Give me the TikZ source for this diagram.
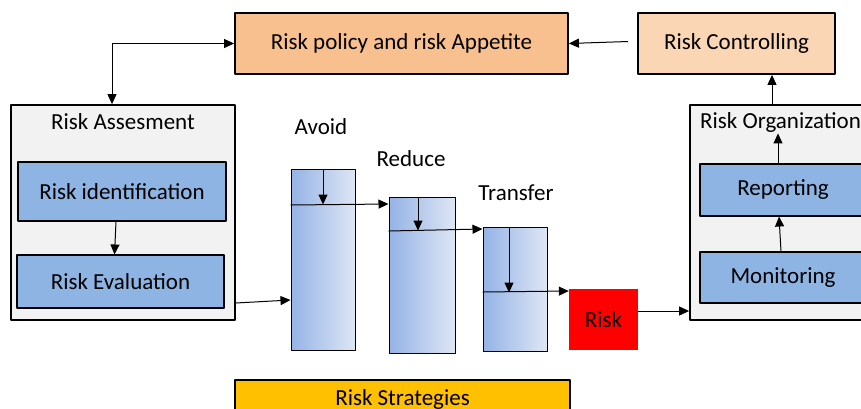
\documentclass[tikz,border=0pt]{standalone}
\usepackage{fontspec}
\setmainfont{Carlito}
\usetikzlibrary{arrows.meta}
\definecolor{policyfill}{RGB}{248,192,143}
\definecolor{controlfill}{RGB}{251,214,181}
\definecolor{innerfill}{RGB}{142,180,227}
\definecolor{outerfill}{RGB}{242,242,242}
\definecolor{barleft}{RGB}{149,179,230}
\definecolor{barright}{RGB}{222,230,245}
\definecolor{stratfill}{RGB}{255,192,0}
\tikzset{
	topbox/.style={draw, line width=1.8pt, inner sep=0pt},
	outerbox/.style={draw, line width=1.8pt, fill=outerfill, inner sep=0pt},
	innerbox/.style={draw, line width=1.1pt, fill=innerfill, inner sep=0pt},
	bar/.style={draw, line width=1pt, left color=barleft, right color=barright, inner sep=0pt},
	conn/.style={->, line width=1pt}
}
\begin{document}
\begin{tikzpicture}[x=1pt, y=-1pt, font=\fontsize{23}{26}\selectfont, line join=round, >={Triangle[length=10pt,width=9pt]}]
	\useasboundingbox (0,0) rectangle (861,408);
	\clip (0,0) rectangle (861,408);
	% top row
	\node[topbox, fill=policyfill, minimum width=333, minimum height=61] (policy) at (401.5,43.5) {Risk policy and risk Appetite};
	\node[topbox, fill=controlfill, minimum width=197, minimum height=61] (control) at (736.5,43.5) {Risk Controlling};
	% left block
	\node[outerbox, minimum width=224, minimum height=215] (assess) at (123,212.5) {};
	\node (assesstitle) at (123,122) {Risk Assesment};
	\node[innerbox, minimum width=208, minimum height=59] (ident) at (122,191.5) {Risk identification};
	\node[innerbox, minimum width=207, minimum height=53] (evalu) at (120.5,281.5) {Risk Evaluation};
	% right block
	\node[outerbox, minimum width=180, minimum height=215] (org) at (780,212.5) {};
	\node[anchor=west, inner sep=0pt] (orgtitle) at (700,122) {Risk Organization};
	\node[innerbox, minimum width=166, minimum height=52] (report) at (783,190) {Reporting};
	\node[innerbox, minimum width=166, minimum height=51] (monitor) at (783,277.5) {Monitoring};
	% strategies
	\node[bar, minimum width=64, minimum height=181] (avoid) at (323,259.5) {};
	\node[bar, minimum width=66, minimum height=156] (reduce) at (422,275) {};
	\node[bar, minimum width=64, minimum height=124] (transfer) at (515,289) {};
	\node (avoidlbl) at (321,127) {Avoid};
	\node (reducelbl) at (411,159) {Reduce};
	\node (transferlbl) at (516,193) {Transfer};
	\node[fill=red, minimum width=69, minimum height=61, inner sep=0pt] (risk) at (603.5,319.5) {Risk};
	\node[topbox, fill=stratfill, minimum width=335, minimum height=38] (strat) at (402.5,399) {Risk Strategies};
	% connectors
	\draw[conn] (control.west) ++(-9,-2) -- (policy.east);
	\draw[<->, line width=1pt] ([xshift=-11]assess.north) |- (policy.west);
	\draw[conn] ([xshift=-6]ident.south) -- ([xshift=-6]evalu.north);
	\draw[conn] (assess.east |- 0,303) -- (avoid.west |- 0,300);
	\draw[conn] (avoid.north) -- ++(0,36);
	\draw[conn] (avoid.west |- 0,205) -- (reduce.west |- 0,204);
	\draw[conn] ([xshift=-4]reduce.north) -- ++(0,34);
	\draw[conn] (reduce.west |- 0,231) -- (transfer.west |- 0,229);
	\draw[conn] ([xshift=-6]transfer.north) -- ++(0,66);
	\draw[conn] (transfer.west |- 0,292) -- (risk.west |- 0,291);
	\draw[conn] (risk.east |- 0,311) -- (org.west |- 0,311);
	\draw[conn] ([xshift=-2]monitor.north) -- ([xshift=-4]report.south);
	\draw[conn] ([xshift=-5]report.north) -- ++(0,-30);
	\draw[conn] ([xshift=-8]org.north) -- ([xshift=35.5]control.south);
\end{tikzpicture}
\end{document}
